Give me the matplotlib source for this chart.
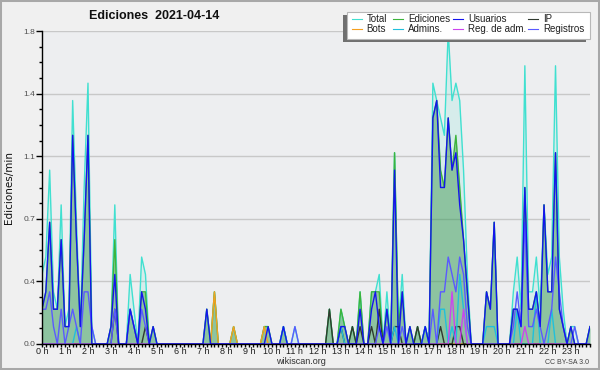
import numpy as np
import matplotlib
matplotlib.use("Agg")
import matplotlib.pyplot as plt
from matplotlib.patches import Rectangle
from matplotlib.lines import Line2D

# counts per 10-minute bin (edits per bin); chart shows edits/min = count / 10
usuarios = [
    2, 3, 7, 2, 2, 6,   1, 1, 12, 6, 1, 6,   12, 0, 0, 0, 0, 0,   1, 4, 0, 0, 0, 2,
    1, 0, 3, 2, 0, 1,   0, 0, 0, 0, 0, 0,    0, 0, 0, 0, 0, 0,    0, 2, 0, 0, 0, 0,
    0, 0, 0, 0, 0, 0,   0, 0, 0, 0, 0, 1,    0, 0, 0, 1, 0, 0,    0, 0, 0, 0, 0, 0,
    0, 0, 0, 0, 0, 0,   1, 1, 0, 0, 0, 2,    0, 0, 2, 3, 1, 0,    2, 0, 10, 0, 3, 0,
    1, 0, 0, 0, 1, 0,   13, 14, 9, 9, 13, 10, 11, 8, 6, 3, 0, 0,  0, 0, 3, 2, 7, 0,
    0, 0, 0, 2, 2, 1,   9, 2, 2, 3, 1, 8,    3, 3, 11, 2, 1, 0,   1, 0, 0, 0, 0, 1,
]
ip = [
    0, 0, 0, 0, 0, 0,   0, 0, 0, 0, 0, 0,    0, 0, 0, 0, 0, 0,    0, 2, 0, 0, 0, 0,
    0, 0, 0, 1, 0, 0,   0, 0, 0, 0, 0, 0,    0, 0, 0, 0, 0, 0,    0, 0, 0, 0, 0, 0,
    0, 0, 0, 0, 0, 0,   0, 0, 0, 0, 0, 0,    0, 0, 0, 0, 0, 0,    0, 0, 0, 0, 0, 0,
    0, 0, 0, 2, 0, 0,   1, 0, 0, 1, 0, 1,    0, 0, 1, 0, 2, 0,    0, 0, 1, 1, 0, 0,
    0, 0, 1, 0, 0, 0,   0, 0, 1, 0, 0, 0,    1, 1, 0, 0, 0, 0,    0, 0, 0, 0, 0, 0,
    0, 0, 0, 0, 0, 0,   0, 0, 0, 0, 0, 0,    0, 0, 0, 0, 0, 0,    0, 0, 0, 0, 0, 0,
]
bots = [
    0, 0, 0, 0, 0, 0,   0, 0, 0, 0, 0, 0,    0, 0, 0, 0, 0, 0,    0, 0, 0, 0, 0, 0,
    0, 0, 0, 0, 0, 0,   0, 0, 0, 0, 0, 0,    0, 0, 0, 0, 0, 0,    0, 0, 0, 3, 0, 0,
    0, 0, 1, 0, 0, 0,   0, 0, 0, 0, 1, 0,    0, 0, 0, 0, 0, 0,    0, 0, 0, 0, 0, 0,
    0, 0, 0, 0, 0, 0,   0, 0, 0, 0, 0, 0,    0, 0, 0, 0, 0, 0,    0, 0, 0, 0, 0, 0,
    0, 0, 0, 0, 0, 0,   0, 0, 0, 0, 0, 0,    0, 0, 0, 0, 0, 0,    0, 0, 0, 0, 0, 0,
    0, 0, 0, 0, 0, 0,   0, 0, 0, 0, 0, 0,    0, 0, 0, 0, 0, 0,    0, 0, 0, 0, 0, 0,
]
ediciones = [
    2, 3, 7, 2, 2, 6,   1, 1, 12, 6, 1, 6,   12, 0, 0, 0, 0, 0,   1, 6, 0, 0, 0, 2,
    1, 0, 3, 3, 0, 1,   0, 0, 0, 0, 0, 0,    0, 0, 0, 0, 0, 0,    0, 2, 0, 3, 0, 0,
    0, 0, 1, 0, 0, 0,   0, 0, 0, 0, 1, 1,    0, 0, 0, 1, 0, 0,    0, 0, 0, 0, 0, 0,
    0, 0, 0, 2, 0, 0,   2, 1, 0, 1, 0, 3,    0, 0, 3, 3, 3, 0,    2, 0, 11, 1, 3, 0,
    1, 0, 1, 0, 1, 0,   13, 14, 10, 9, 13, 10, 12, 9, 6, 3, 0, 0, 0, 0, 3, 2, 7, 0,
    0, 0, 0, 2, 2, 1,   9, 2, 2, 3, 1, 8,    3, 3, 11, 2, 1, 0,   1, 0, 0, 0, 0, 1,
]
registros = [
    2, 2, 3, 1, 0, 2,   0, 1, 2, 1, 0, 3,    3, 1, 0, 0, 0, 0,    0, 2, 0, 0, 0, 2,
    1, 0, 2, 1, 0, 0,   0, 0, 0, 0, 0, 0,    0, 0, 0, 0, 0, 0,    0, 0, 0, 0, 0, 0,
    0, 0, 0, 0, 0, 0,   0, 0, 0, 0, 0, 0,    0, 0, 0, 0, 0, 0,    1, 0, 0, 0, 0, 0,
    0, 0, 0, 0, 0, 0,   0, 0, 0, 0, 0, 0,    0, 0, 0, 0, 1, 0,    1, 0, 0, 0, 1, 0,
    0, 0, 0, 0, 0, 0,   2, 0, 3, 3, 5, 4,    3, 5, 4, 1, 0, 0,    0, 0, 0, 0, 0, 0,
    0, 0, 0, 1, 3, 1,   7, 1, 1, 2, 1, 0,    1, 2, 5, 3, 1, 0,    0, 1, 0, 0, 0, 0,
]
total = [
    4, 5, 10, 3, 2, 8,  1, 2, 14, 7, 1, 9,   15, 1, 0, 0, 0, 0,   1, 8, 0, 0, 0, 4,
    2, 0, 5, 4, 0, 1,   0, 0, 0, 0, 0, 0,    0, 0, 0, 0, 0, 0,    0, 2, 0, 3, 0, 0,
    0, 0, 1, 0, 0, 0,   0, 0, 0, 0, 1, 1,    0, 0, 0, 1, 0, 0,    1, 0, 0, 0, 0, 0,
    0, 0, 0, 2, 0, 0,   2, 1, 0, 1, 0, 3,    0, 0, 3, 3, 4, 0,    3, 0, 11, 1, 4, 0,
    1, 0, 1, 0, 1, 0,   15, 14, 13, 12, 18, 14, 15, 14, 10, 4, 0, 0, 0, 0, 3, 2, 7, 0,
    0, 0, 0, 3, 5, 2,   16, 3, 3, 5, 2, 8,   4, 5, 16, 5, 2, 0,   1, 1, 0, 0, 0, 1,
]
admins = [
    0, 0, 0, 0, 0, 0,   0, 0, 0, 1, 0, 0,    0, 0, 0, 0, 0, 0,    0, 0, 0, 0, 0, 0,
    0, 0, 0, 0, 0, 0,   0, 0, 0, 0, 0, 0,    0, 0, 0, 0, 0, 0,    0, 0, 0, 0, 0, 0,
    0, 0, 0, 0, 0, 0,   0, 0, 0, 0, 0, 0,    0, 0, 0, 1, 0, 0,    0, 0, 0, 0, 0, 0,
    0, 0, 0, 0, 0, 0,   1, 0, 0, 0, 0, 0,    0, 0, 0, 0, 0, 0,    0, 0, 1, 0, 0, 0,
    0, 0, 0, 0, 1, 0,   0, 0, 2, 2, 0, 1,    0, 4, 2, 0, 0, 0,    0, 0, 1, 1, 1, 0,
    0, 0, 0, 0, 2, 0,   0, 0, 0, 3, 0, 0,    0, 2, 0, 0, 0, 0,    0, 0, 0, 0, 0, 0,
]
reg_adm = [
    0, 0, 0, 0, 0, 0,   0, 0, 0, 0, 0, 0,    0, 0, 0, 0, 0, 0,    0, 0, 0, 0, 0, 0,
    0, 0, 0, 0, 0, 0,   0, 0, 0, 0, 0, 0,    0, 0, 0, 0, 0, 0,    0, 0, 0, 0, 0, 0,
    0, 0, 0, 0, 0, 0,   0, 0, 0, 0, 0, 0,    0, 0, 0, 0, 0, 0,    0, 0, 0, 0, 0, 0,
    0, 0, 0, 0, 0, 0,   0, 0, 0, 0, 0, 0,    0, 0, 0, 0, 0, 0,    0, 0, 0, 0, 0, 0,
    0, 0, 0, 0, 0, 0,   0, 0, 0, 0, 0, 3,    0, 0, 2, 0, 0, 0,    0, 0, 0, 0, 0, 0,
    0, 0, 0, 0, 0, 0,   1, 0, 0, 0, 0, 0,    0, 0, 0, 0, 0, 0,    0, 0, 0, 0, 0, 0,
]
hour_labels = [f"{h} h" for h in range(24)]
y_ticks = [0.0, 0.36, 0.72, 1.08, 1.44, 1.8]

W, H = 600, 370
fig = plt.figure(figsize=(W / 100, H / 100), dpi=100, facecolor="#f0f0f0")
def fx(p): return p / W
def fy(p): return 1 - p / H

ax = fig.add_axes([fx(42), fy(344), (590 - 42) / W, (344 - 31) / H])
ax.set_facecolor("#edeef0")

x = np.arange(len(total))
per_min = lambda s: np.asarray(s, dtype=float) / 10.0

C_TOTAL = "#40e0d0"
C_EDIC = "#3cb43c"
C_USU = "#1414ee"
C_IP = "#303a30"
C_BOTS = "#f5a020"
C_ADM = "#20c0dc"
C_RADM = "#cc44ee"
C_REG = "#5a5aff"

ax.fill_between(x, per_min(total), color=C_TOTAL, alpha=0.13, lw=0)
ax.fill_between(x, per_min(ediciones), color="#2a8c3a", alpha=0.42, lw=0)
lw = 1.0
ax.plot(x, per_min(total), color=C_TOTAL, lw=lw)
ax.plot(x, per_min(ediciones), color=C_EDIC, lw=lw)
ax.plot(x, per_min(bots), color=C_BOTS, lw=lw)
ax.plot(x, per_min(ip), color=C_IP, lw=lw)
ax.plot(x, per_min(admins), color=C_ADM, lw=lw)
ax.plot(x, per_min(reg_adm), color=C_RADM, lw=lw)
ax.plot(x, per_min(registros), color=C_REG, lw=lw)
ax.plot(x, per_min(usuarios), color=C_USU, lw=lw)

ax.set_xlim(0, len(total) - 1)
ax.set_ylim(0, 1.8)
ax.set_xticks(np.arange(0, len(total), 6))
ax.set_xticklabels(hour_labels, fontsize=6.5, family="Liberation Sans", color="#202020")
ax.set_xticks(np.arange(0, len(total)), minor=True)
ax.set_yticks(y_ticks)
ax.set_yticklabels([f"{v:.1f}" for v in y_ticks], fontsize=6, family="Liberation Sans", color="#505050")
ax.set_yticks(np.arange(0, 1.8001, 0.09), minor=True)
ax.tick_params(axis="x", which="major", length=2, width=1, pad=0.5)
ax.tick_params(axis="x", which="minor", length=2, width=1)
ax.tick_params(axis="y", which="major", length=4, width=1, pad=1)
ax.tick_params(axis="y", which="minor", length=2.5, width=1)
ax.yaxis.grid(True, which="major", color="#c8c8c8", lw=1)
ax.set_axisbelow(True)
for s in ("top", "right"):
    ax.spines[s].set_visible(False)
for s in ("left", "bottom"):
    ax.spines[s].set_color("black")
    ax.spines[s].set_linewidth(1)

# texts
fig.text(fx(154), fy(16), "Ediciones  2021-04-14", ha="center", va="center",
         fontsize=9, fontweight="bold", family="Liberation Sans", color="#101010")
fig.text(fx(9), fy(188), "Ediciones/min", rotation=90, ha="center", va="center",
         fontsize=7.5, color="#101010")
fig.text(fx(300.5), fy(362), "wikiscan.org", ha="center", va="center",
         fontsize=6.5, family="Liberation Sans", color="#303030")
fig.text(fx(589), fy(363), "CC BY-SA 3.0", ha="right", va="center",
         fontsize=5, family="Liberation Sans", color="#404040")

# legend (shadow + box + entries)
fig.patches.append(Rectangle((fx(342.7), fy(42)), (586 - 342.7) / W, (42 - 15) / H,
                             transform=fig.transFigure, facecolor="#707070", edgecolor="none", zorder=5))
fig.patches.append(Rectangle((fx(346.7), fy(39.3)), (590 - 346.7) / W, (39.3 - 11.7) / H,
                             transform=fig.transFigure, facecolor="white", edgecolor="#b8b8b8",
                             lw=0.8, zorder=6))
legend_items = [
    ("Total", C_TOTAL, 351.7, 19), ("Ediciones", C_EDIC, 393, 19),
    ("Usuarios", C_USU, 453, 19), ("IP", C_IP, 528, 19),
    ("Bots", C_BOTS, 351.7, 29), ("Admins.", C_ADM, 393, 29),
    ("Reg. de adm.", C_RADM, 453, 29), ("Registros", C_REG, 528, 29),
]
for label, col, lx, ly in legend_items:
    fig.lines.append(Line2D([fx(lx), fx(lx + 10)], [fy(ly), fy(ly)], transform=fig.transFigure,
                            color=col, lw=0.8, zorder=7))
    fig.text(fx(lx + 15), fy(ly), label, ha="left", va="center", fontsize=7,
             family="Liberation Sans", color="#202020", zorder=7)

# outer frame
fig.patches.append(Rectangle((0, 0), 1, 1, transform=fig.transFigure, fill=False,
                             edgecolor="#a8a8a8", lw=2.9, zorder=10))

fig.savefig("out.png", dpi=100, facecolor=fig.get_facecolor())
